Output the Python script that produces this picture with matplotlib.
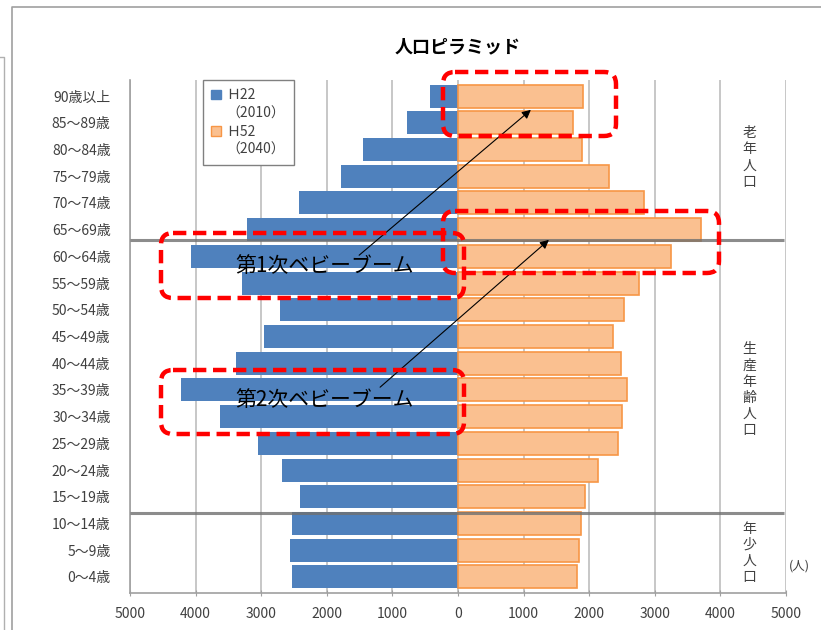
import numpy as np
import matplotlib.pyplot as plt
from matplotlib.patches import FancyBboxPatch, Patch
from matplotlib.lines import Line2D
from matplotlib.transforms import Affine2D

plt.rcParams['font.family'] = ['Noto Sans CJK JP', 'DejaVu Sans']

ages = ['90歳以上', '85～89歳', '80～84歳', '75～79歳', '70～74歳', '65～69歳',
        '60～64歳', '55～59歳', '50～54歳', '45～49歳', '40～44歳', '35～39歳',
        '30～34歳', '25～29歳', '20～24歳', '15～19歳', '10～14歳', '5～9歳', '0～4歳']
h22 = [425, 780, 1450, 1790, 2430, 3215, 4065, 3290, 2720, 2960,
       3380, 4230, 3630, 3050, 2685, 2410, 2525, 2560, 2525]
h52 = [1910, 1750, 1885, 2300, 2840, 3700, 3245, 2755, 2535, 2365,
       2490, 2580, 2500, 2440, 2130, 1930, 1875, 1840, 1815]
xticks = [-5000, -4000, -3000, -2000, -1000, 0, 1000, 2000, 3000, 4000, 5000]

blue = '#4F81BD'
orange_fill = '#FAC090'
orange_edge = '#F79646'
txt = '#404040'

W, H = 821, 630
fig = plt.figure(figsize=(W / 100, H / 100), dpi=100)
ax = fig.add_axes([130 / W, 1 - 593 / H, 656 / W, 513 / H])

y = np.arange(len(ages))
ax.barh(y, [-v for v in h22], height=0.86, color=blue, zorder=2)
ax.barh(y, h52, height=0.86, color=orange_fill, edgecolor=orange_edge,
        linewidth=1.2, zorder=2)

ax.set_xlim(-5000, 5000)
ax.set_ylim(18.6, -0.6)
ax.set_yticks(y)
ax.set_yticklabels(ages, fontsize=10, color=txt)
ax.set_xticks(xticks)
ax.set_xticklabels([str(abs(v)) for v in xticks], fontsize=10, color=txt)
ax.tick_params(axis='y', length=0, pad=14)
ax.tick_params(axis='x', length=4, direction='inout', color='#A0A0A0', pad=8)
ax.grid(axis='x', color='#BDBDBD', linewidth=1.2, zorder=0)
ax.set_axisbelow(True)
for s in ['top', 'right']:
    ax.spines[s].set_visible(False)
for s in ['left', 'bottom']:
    ax.spines[s].set_color('#A0A0A0')
    ax.spines[s].set_linewidth(1.2)

# age-group dividers
for yd in [5.4, 15.6]:
    ax.plot([-5000, 4970], [yd, yd], color='#707070', lw=2.2, alpha=0.8,
            zorder=4, solid_capstyle='butt')

ax.set_title('人口ピラミッド', fontsize=13, fontweight='bold', pad=20)

# group labels on the right
groups = [('老年人口', 2.3), ('生産年齢人口', 11.0), ('年少人口', 17.1)]
for label, yc in groups:
    ax.text(4440, yc, '\n'.join(label), ha='center', va='center',
            fontsize=10, color=txt, linespacing=1.2, zorder=5)
ax.text(5050, 17.6, '(人)', ha='left', va='center', fontsize=9,
        color=txt, clip_on=False)

# legend, marker on first line only
handles = [Patch(facecolor=blue, edgecolor=blue),
           Line2D([], [], linestyle='none'),
           Patch(facecolor=orange_fill, edgecolor=orange_edge),
           Line2D([], [], linestyle='none')]
labels = ['Ｈ22', '（2010）', 'Ｈ52', '（2040）']
leg = ax.legend(handles, labels, loc='upper left',
                bbox_to_anchor=(73 / 656, 1.0), borderaxespad=0, fontsize=10,
                handlelength=0.7, handleheight=0.7, handletextpad=0.4,
                labelspacing=0.3, borderpad=0.6, fancybox=False,
                edgecolor='#808080', framealpha=1)
for t in leg.get_texts():
    t.set_color(txt)
leg.get_frame().set_linewidth(1.0)

# pixel coordinates, origin at the top-left corner of the figure
pix = Affine2D().scale(1, -1).translate(0, H)


def px2data(px, py):
    return (px - 458) / 65.6 * 1000, (py - 96) / 26.72


def red_box(x0, y0, x1, y1):
    box = FancyBboxPatch((x0, y0), x1 - x0, y1 - y0,
                         boxstyle='round,pad=0,rounding_size=12',
                         transform=pix, fill=False, edgecolor='#FF0000',
                         linewidth=3.2, linestyle=(0, (3.0, 1.5)),
                         zorder=6, clip_on=False)
    fig.add_artist(box)


red_box(443, 72, 616, 136)
red_box(443, 211, 719, 273)
red_box(161, 233, 464, 298)
red_box(161, 370, 464, 434)

# baby boom labels and arrows
for label, (tx, ty), (sx, sy), (ex, ey) in [
        ('第1次ベビーブーム', (235, 266), (357, 257), (533, 108)),
        ('第2次ベビーブーム', (235, 400), (378, 389), (551, 238))]:
    dx, dy = px2data(tx, ty)
    ax.text(dx, dy, label, fontsize=15, color='black', ha='left',
            va='center', zorder=7)
    ax.annotate('', xy=px2data(ex, ey), xytext=px2data(sx, sy),
                arrowprops=dict(arrowstyle='-|>', color='black', lw=0.8,
                                mutation_scale=13), zorder=7)

# outer frame
fig.add_artist(Line2D([12 / W, 12 / W, 1.0], [0, 1 - 7 / H, 1 - 7 / H],
                      transform=fig.transFigure, color='#A0A0A0', lw=1.2))
fig.add_artist(Line2D([0, 4 / W, 4 / W], [1 - 57 / H, 1 - 57 / H, 0],
                      transform=fig.transFigure, color='#B0B0B0', lw=1.0))

fig.savefig('out.png', dpi=100)
